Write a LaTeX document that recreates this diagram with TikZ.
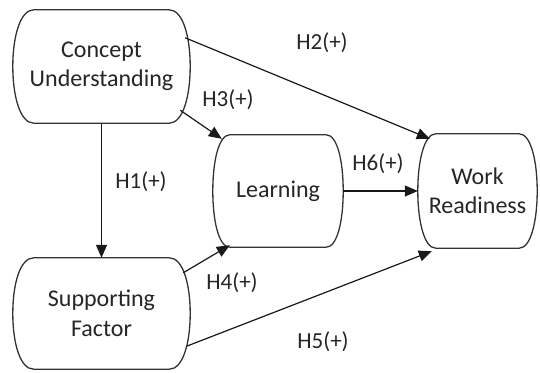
\documentclass[tikz,border=0pt]{standalone}
\usepackage{fontspec}
\setmainfont{Carlito}
\usetikzlibrary{arrows.meta,calc}
\newcommand\bulgeoutline[2]{%
  \draw[outline] ($(#1.north west)+(#2,0)$) -- ($(#1.north east)+(-#2,0)$)
    .. controls ($(#1.north east)+(-#2*0.35,0)$) and ($(#1.east)+(0,-30)$) .. (#1.east)
    .. controls ($(#1.east)+(0,30)$) and ($(#1.south east)+(-#2*0.35,0)$) .. ($(#1.south east)+(-#2,0)$)
    -- ($(#1.south west)+(#2,0)$)
    .. controls ($(#1.south west)+(#2*0.35,0)$) and ($(#1.west)+(0,30)$) .. (#1.west)
    .. controls ($(#1.west)+(0,-30)$) and ($(#1.north west)+(#2*0.35,0)$) .. cycle;}
\begin{document}
\begin{tikzpicture}[x=1pt,y=-1pt,
  box/.style={draw=none,inner sep=0pt,align=center,text=black!85,font=\fontsize{24}{29.5}\selectfont},
  lbl/.style={inner sep=0pt,text=black!85,font=\fontsize{23}{28}\selectfont},
  outline/.style={draw=black!80,line width=1.3pt},
  conn/.style={draw=black!90,line width=1.2pt,-{Triangle[length=13pt,width=11pt]}}]
\useasboundingbox[fill=white] (0,0) rectangle (540,372);

\node[box,minimum width=177pt,minimum height=113pt] (cu) at (101.5,66.5) {Concept\\Understanding};
\node[box,minimum width=177pt,minimum height=111pt] (sf) at (101.5,313.5) {Supporting\\Factor};
\node[box,minimum width=130pt,minimum height=112pt] (le) at (278,191) {Learning};
\node[box,minimum width=119pt,minimum height=114pt] (wr) at (477.5,191) {Work\\Readiness};

\bulgeoutline{cu}{21}
\bulgeoutline{sf}{21}
\bulgeoutline{le}{17}
\bulgeoutline{wr}{18}

\draw[conn] (cu.south) -- (sf.north);
\draw[conn] ($(cu.north east)+(-5,28)$) -- ($(wr.north west)+(12,5)$);
\draw[conn] ($(cu.south east)+(-10,-13)$) -- ($(le.north west)+(9,4)$);
\draw[conn] ($(sf.north east)+(-7,15)$) -- ($(le.south west)+(17,-2)$);
\draw[conn] ($(sf.east)+(-3,32.5)$) -- ($(wr.south west)+(14,3)$);
\draw[conn] (le.east) -- (wr.west);

\node[lbl] (h1) at (141,182) {H1(+)};
\node[lbl] (h2) at (322,43) {H2(+)};
\node[lbl] (h3) at (228,100) {H3(+)};
\node[lbl] (h4) at (232,283) {H4(+)};
\node[lbl] (h5) at (323,342) {H5(+)};
\node[lbl] (h6) at (378,164) {H6(+)};
\end{tikzpicture}
\end{document}
